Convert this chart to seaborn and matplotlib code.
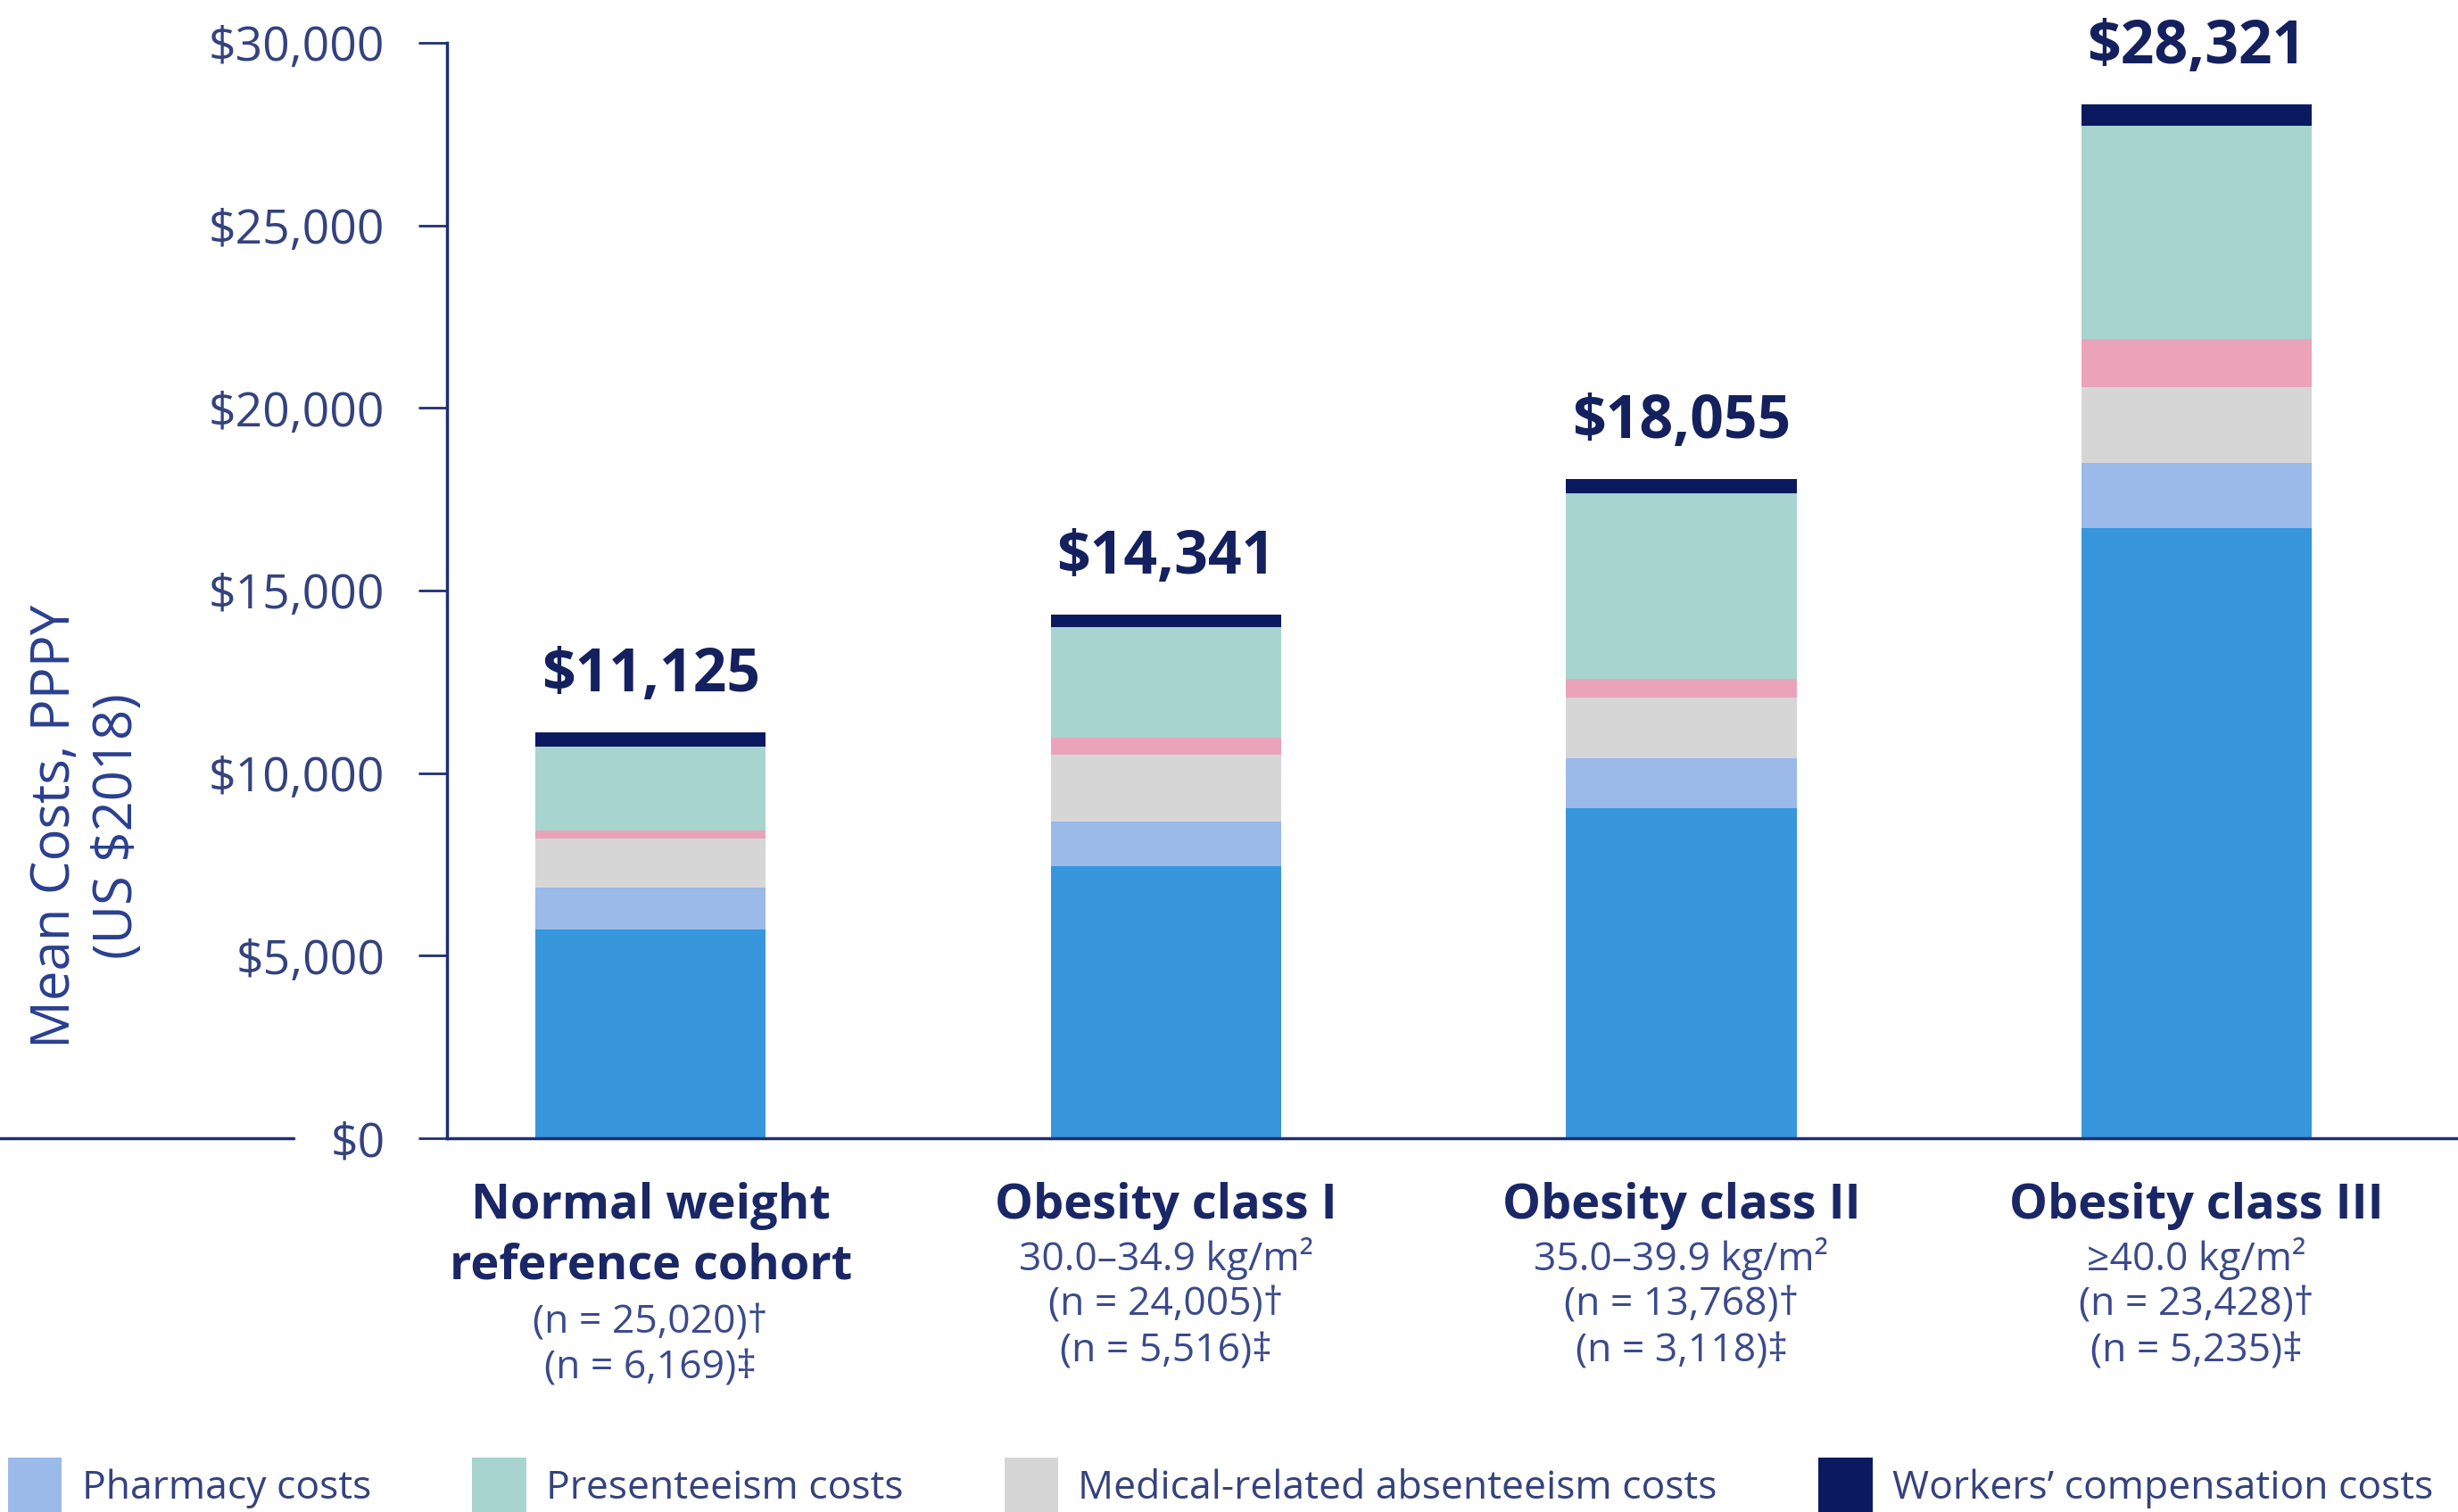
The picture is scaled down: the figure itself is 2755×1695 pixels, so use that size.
"""Stacked bar chart: mean indirect + direct costs per BMI class."""
import matplotlib
matplotlib.use("Agg")
import matplotlib.pyplot as plt
from matplotlib.lines import Line2D
from matplotlib.patches import Patch
import seaborn as sns

# ---- data ----
categories = ["Normal weight", "Obesity class I", "Obesity class II", "Obesity class III"]
totals = [11125, 14341, 18055, 28321]

medical = [5726, 7455, 9030, 16712]
pharmacy = [1145, 1211, 1389, 1792]
absenteeism = [1345, 1831, 1652, 2056]
disability = [217, 470, 508, 1323]
presenteeism = [2297, 3028, 5092, 5837]
workers_comp = [395, 346, 384, 601]

name_lines = [["Normal weight", "reference cohort"], ["Obesity class I"],
              ["Obesity class II"], ["Obesity class III"]]
sub_lines = [
    ["(n = 25,020)†", "(n = 6,169)‡"],
    ["30.0–34.9 kg/m²", "(n = 24,005)†", "(n = 5,516)‡"],
    ["35.0–39.9 kg/m²", "(n = 13,768)†", "(n = 3,118)‡"],
    ["≥40.0 kg/m²", "(n = 23,428)†", "(n = 5,235)‡"],
]
y_ticks = [0, 5000, 10000, 15000, 20000, 25000, 30000]

segments = [
    ("Medical costs", medical, "#3796dc"),
    ("Pharmacy costs", pharmacy, "#9bb9e9"),
    ("Medical-related absenteeism costs", absenteeism, "#d6d6d6"),
    ("Short-term disability costs", disability, "#eba3ba"),
    ("Presenteeism costs", presenteeism, "#a7d4cf"),
    ("Workers\u2019 compensation costs", workers_comp, "#0b1a60"),
]
legend_names = ["Pharmacy costs", "Presenteeism costs",
                "Medical-related absenteeism costs", "Workers\u2019 compensation costs"]

NAVY = "#1a2766"
AXIS = "#1f2f73"
SUB = "#3b4a8c"

sns.set_theme(style="white")
plt.rcParams["font.family"] = ["Open Sans", "DejaVu Sans"]

W, H = 2755, 1695
fig = plt.figure(figsize=(W / 100, H / 100), dpi=100)
y0, y1 = 1276, 48
ax = fig.add_axes([501 / W, 1 - y0 / H, 1 - 501 / W, (y0 - y1) / H])

# stacked bars: draw cumulative sums from the top layer down
cum = []
running = [0] * len(categories)
for name, vals, col in segments:
    running = [r + v for r, v in zip(running, vals)]
    cum.append((name, list(running), col))
for name, heights, col in reversed(cum):
    sns.barplot(x=categories, y=heights, color=col, saturation=1, width=0.447,
                linewidth=0, errorbar=None, ax=ax)

ax.set_xlim(-0.395, 3.507)
ax.set_ylim(0, 30000)
ax.set_yticks(y_ticks)
ax.set_yticklabels([f"${v:,}" for v in y_ticks], fontsize=38.5, color="#34427e")
ax.set_xticks(range(len(categories)))
ax.set_xticklabels([])
ax.tick_params(axis="y", length=23, width=2, color=AXIS, pad=27, left=True)
ax.tick_params(axis="x", length=0)
ax.set_xlabel("")
ax.set_ylabel("")
for side in ["top", "right"]:
    ax.spines[side].set_visible(False)
for side in ["left", "bottom"]:
    ax.spines[side].set_color(AXIS)
    ax.spines[side].set_linewidth(2.5)

# baseline continues to the left edge of the figure
fig.add_artist(Line2D([0, 329 / W], [1 - y0 / H, 1 - y0 / H], color=AXIS, lw=2.5,
                      transform=fig.transFigure))

# totals above bars
for i, t in enumerate(totals):
    ax.annotate(f"${t:,}", xy=(i, t), xytext=(0, 45.5), textcoords="offset points",
                ha="center", va="center", fontsize=47.5, fontweight="bold", color="#14215e")

# category labels under the axis
xt = ax.get_xaxis_transform()
bold_offsets = [55, 103]
sub_offsets = {0: [149, 186], 1: [97, 135, 172.5]}
for i in range(len(categories)):
    for ln, off in zip(name_lines[i], bold_offsets):
        ax.annotate(ln, xy=(i, 0), xycoords=xt, xytext=(0, -off), textcoords="offset points",
                    ha="center", va="center", fontsize=39, fontweight="bold", color=NAVY)
    offs = sub_offsets[0] if i == 0 else sub_offsets[1]
    for ln, off in zip(sub_lines[i], offs):
        ax.annotate(ln, xy=(i, 0), xycoords=xt, xytext=(0, -off), textcoords="offset points",
                    ha="center", va="center", fontsize=32, color=SUB)

fig.text(97 / W, 1 - 926 / H, "Mean Costs, PPPY\n(US $2018)", rotation=90, ha="center",
         va="center", fontsize=43, color="#2a3f8f", multialignment="center")

colors = {n: c for n, _, c in segments}
handles = [Patch(facecolor=colors[n], edgecolor="none", label=n) for n in legend_names]
fig.legend(handles=handles, loc="upper left", bbox_to_anchor=(9 / W, 1 - 1634 / H), ncol=4,
           frameon=False, fontsize=32, handlelength=1.36, handleheight=1.8, handletextpad=0.5,
           columnspacing=2.55, borderaxespad=0, borderpad=0, labelcolor="#34427e")

fig.savefig("out.png", dpi=100)
plt.close(fig)
